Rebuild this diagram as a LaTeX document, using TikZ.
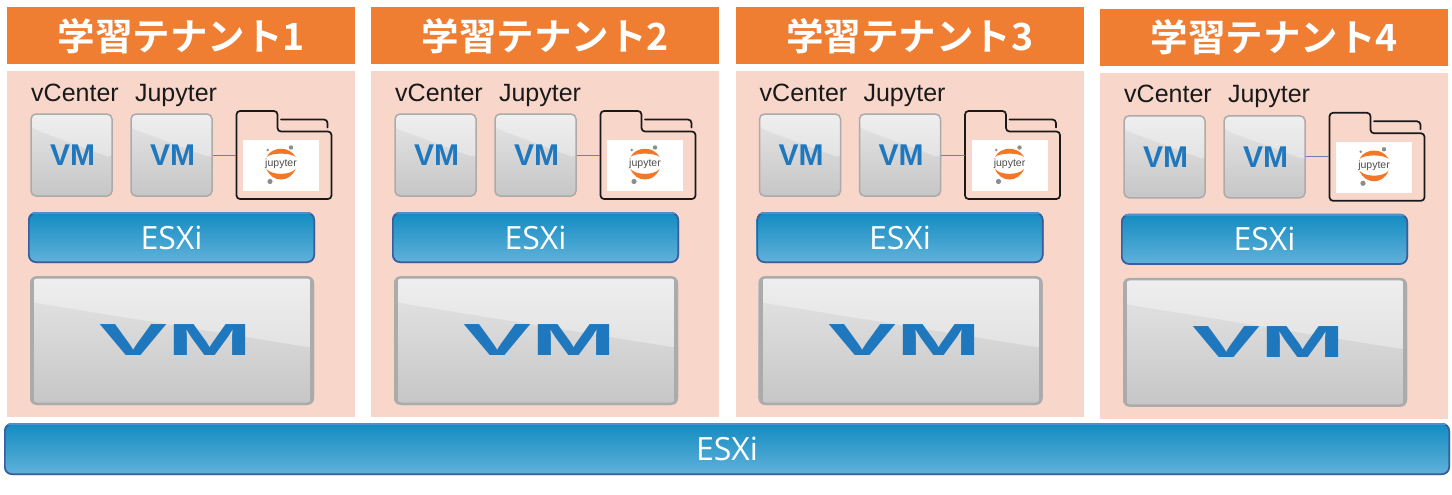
\documentclass[tikz,border=0pt]{standalone}
\usepackage{fontspec}
\setmainfont{Liberation Sans}
\newfontfamily\jpfont{Noto Sans CJK JP}[BoldFont={* Bold}]
\newfontfamily\esxfont{Open Sans}
\definecolor{hdr}{HTML}{EF7E33}
\definecolor{bodyc}{HTML}{F8D6CA}
\definecolor{vmblue}{HTML}{1F77BD}
\definecolor{esxedge}{HTML}{3A5E9C}
\definecolor{esxlight}{HTML}{4C8FD2}
\definecolor{esxtop}{HTML}{128BC1}
\definecolor{esxbot}{HTML}{62B2DA}
\definecolor{vmedge}{HTML}{ABABAB}
\definecolor{vmtop}{HTML}{E6E6E6}
\definecolor{vmbot}{HTML}{C6C6C6}
\definecolor{linkc}{HTML}{6A7FB5}
\definecolor{jorange}{HTML}{F37726}
\definecolor{jgrey}{HTML}{8C8C8C}
\tikzset{
  header/.style={fill=hdr,minimum width=348,minimum height=57,inner sep=0,text=white,font=\jpfont\bfseries\fontsize{37.5}{37.5}\selectfont},
  tbody/.style={fill=bodyc,minimum width=348,minimum height=346,inner sep=0},
  vmlabel/.style={inner sep=0,anchor=base,font=\fontsize{25}{25}\selectfont,text=black!90},
  esxi/.style={rounded corners=8,top color=esxtop,bottom color=esxbot,inner sep=0,text=white,font=\esxfont\fontsize{32}{32}\selectfont,path picture={\esxedges}},
  vmbox/.style={inner sep=0,text=vmblue,top color=vmtop,middle color=vmtop!45!vmbot,bottom color=vmbot,font=\bfseries\fontsize{30}{30}\selectfont},
  smallvm/.style={vmbox,draw=vmedge,rounded corners=5,line width=1.5,minimum width=81,minimum height=82,path picture={\vmgloss{14}{44}}},
  bigvm/.style={vmbox,rounded corners=7,minimum width=284,minimum height=129,path picture={\vmgloss{26}{72}\bigedges}},
  link/.style={draw=linkc,line width=0.8},
  folder/.style={draw=black!90,line width=1.7,rounded corners=3.5},
  logobg/.style={fill=white,minimum width=76,minimum height=51,inner sep=0},
  logotext/.style={inner sep=0,text=black!70,font=\fontsize{10.5}{10.5}\selectfont},
}
\newcommand\ppb{path picture bounding box}
% gloss on a VM box, drawn inside the box
\newcommand\vmgloss[2]{%
  \fill[white,opacity=.35] (\ppb.north west) --
    ([yshift=-#1]\ppb.north west) --
    ([yshift=-#2]\ppb.north east) --
    (\ppb.north east) -- cycle;}
\newcommand\bigedges{%
  \draw[vmedge,line width=5,rounded corners=7] (\ppb.north west) rectangle (\ppb.south east);
  \draw[vmedge,line width=8,sharp corners] (\ppb.north west) -- (\ppb.south west) (\ppb.north east) -- (\ppb.south east);}
\newcommand\esxedges{%
  \draw[esxedge,line width=3.4,rounded corners=8] (\ppb.north west) rectangle (\ppb.south east);
  \draw[esxlight,line width=3.4,sharp corners] (\ppb.north west) -- (\ppb.north east);}
\newcommand\tenant[4]{% id, dx, dy, number
 \begin{scope}[shift={(#2,#3)}]
  \node[header,anchor=north west] (h#1) at (7,7) {学習テナント#4};
  \node[tbody,anchor=north west] (b#1) at (7,71) {};
  \node[vmlabel] (lv#1) at (75,101) {vCenter};
  \node[vmlabel] (lj#1) at (176,101) {Jupyter};
  \node[smallvm] (v#1) at (71.5,155) {\hspace*{2pt}VM};
  \node[smallvm] (j#1) at (171.5,155) {\hspace*{2pt}VM};
  \draw[folder] (236.5,111) -- (277.5,111) -- (277.5,131.5) -- (331.5,131.5) -- (331.5,199) -- (236.5,199) -- cycle;
  \draw[folder,line cap=round] (281,119.5) -- (327.5,119.5) -- (327.5,127.5);
  \coordinate (fl#1) at (236,155);
  \draw[link] (j#1.east) -- (fl#1);
  \node[logobg] (jl#1) at (281,165.5) {};
  \begin{scope}[shift={(281,165.5)}]
   \fill[jorange] (-14.5,-8.5) .. controls (-9,-19.5) and (9,-19.5) .. (14.5,-8.5) .. controls (9,-13) and (-9,-13) .. (-14.5,-8.5) -- cycle;
   \fill[jorange] (-14.5,3.5) .. controls (-9,17.5) and (9,17.5) .. (14.5,3.5) .. controls (9,10) and (-9,10) .. (-14.5,3.5) -- cycle;
   \fill[jgrey] (10,-18) circle (2.2);
   \fill[jgrey] (-13.3,-15.5) circle (1.4);
   \fill[jgrey] (-11,16) circle (2.6);
  \end{scope}
  \node[logotext] (jt#1) at ([yshift=1.5]jl#1.center) {jupyter};
  \node[esxi,minimum width=287,minimum height=51] (e#1) at (171.5,237.5) {ESXi};
  \node[bigvm] (m#1) at (172,340.5) {\hspace*{8pt}\raisebox{1.5pt}{\scalebox{3.4}[1.5]{VM}}};
 \end{scope}}
\begin{document}
\begin{tikzpicture}[x=1pt,y=-1pt]
 \useasboundingbox (0,0) rectangle (1452,495);
 \tenant{a}{0}{0}{1}
 \tenant{b}{364}{0}{2}
 \tenant{c}{728.5}{0}{3}
 \tenant{d}{1093}{1.8}{4}
 \node[esxi,minimum width=1446,minimum height=52] (base) at (727,449) {ESXi};
\end{tikzpicture}
\end{document}
